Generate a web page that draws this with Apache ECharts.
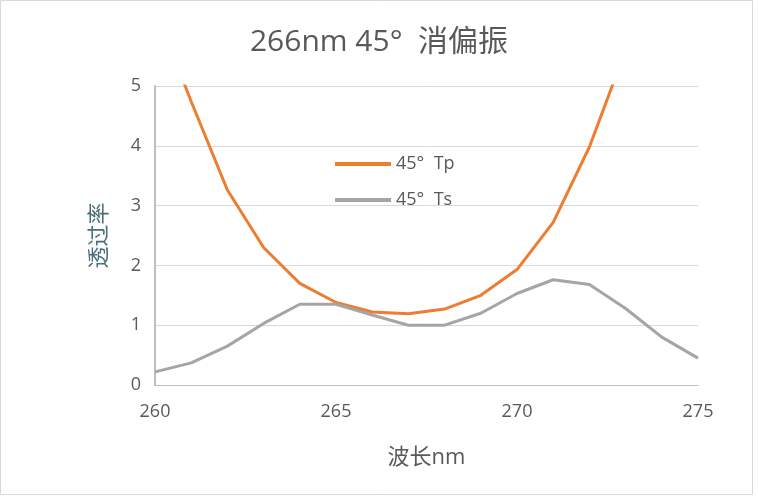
<!DOCTYPE html>
<html><head><meta charset="utf-8">
<script src="https://cdn.jsdelivr.net/npm/echarts@6/dist/echarts.min.js"></script>
<style>html,body{margin:0;background:#fff}#c{width:758px;height:500px}</style>
</head><body><div id="c"></div>
<script>
var wavelength = [260,261,262,263,264,265,266,267,268,269,270,271,272,273,274,275];
var tp = [6.3,4.74,3.26,2.3,1.7,1.38,1.22,1.19,1.27,1.5,1.93,2.72,3.98,5.6,7.5,9.5];
var ts = [0.22,0.37,0.65,1.03,1.35,1.35,1.17,1.0,1.0,1.2,1.53,1.76,1.68,1.28,0.8,0.45];

var chart = echarts.init(document.getElementById('c'));
var font = '"Open Sans","Noto Sans CJK SC",sans-serif';
chart.setOption({
  animation: false,
  title: { text: '266nm 45°  消偏振', left: 'center', top: 22,
    textStyle: { fontFamily: font, fontSize: 30, fontWeight: 'normal', color: '#595959' } },
  legend: { orient: 'vertical', left: 330, top: 150, itemGap: 18, itemWidth: 56, itemHeight: 4,
    icon: 'rect', textStyle: { fontFamily: font, fontSize: 18, color: '#595959' },
    data: ['45°  Tp', '45°  Ts'] },
  grid: { left: 155, right: 60, top: 86, bottom: 115 },
  xAxis: { type: 'value', min: 260, max: 275, interval: 5,
    name: '波长nm', nameLocation: 'middle', nameGap: 62,
    nameTextStyle: { fontFamily: font, fontSize: 22, color: '#595959' },
    axisLine: { lineStyle: { color: '#bfbfbf' } }, axisTick: { show: false },
    axisLabel: { fontFamily: font, fontSize: 18, color: '#595959', margin: 18 },
    splitLine: { show: false } },
  yAxis: { type: 'value', min: 0, max: 5, interval: 1,
    name: '透过率', nameLocation: 'middle', nameGap: 44, nameRotate: 90,
    nameTextStyle: { fontFamily: font, fontSize: 22, color: '#4a6e78' },
    axisLine: { show: true, lineStyle: { color: '#bfbfbf', width: 2 } }, axisTick: { show: false },
    axisLabel: { fontFamily: font, fontSize: 18, color: '#595959', margin: 14 },
    splitLine: { lineStyle: { color: '#d9d9d9' } } },
  graphic: [{ type: 'rect', shape: { x: 0.5, y: 0.5, width: 752, height: 494 },
    style: { fill: 'none', stroke: '#d9d9d9' } }],
  series: [
    { name: '45°  Tp', type: 'line', symbol: 'none', clip: true, color: '#ed7d31',
      lineStyle: { width: 3 }, data: wavelength.map(function (w, i) { return [w, tp[i]]; }) },
    { name: '45°  Ts', type: 'line', symbol: 'none', clip: true, color: '#a5a5a5',
      lineStyle: { width: 3 }, data: wavelength.map(function (w, i) { return [w, ts[i]]; }) }
  ]
});
</script></body></html>
